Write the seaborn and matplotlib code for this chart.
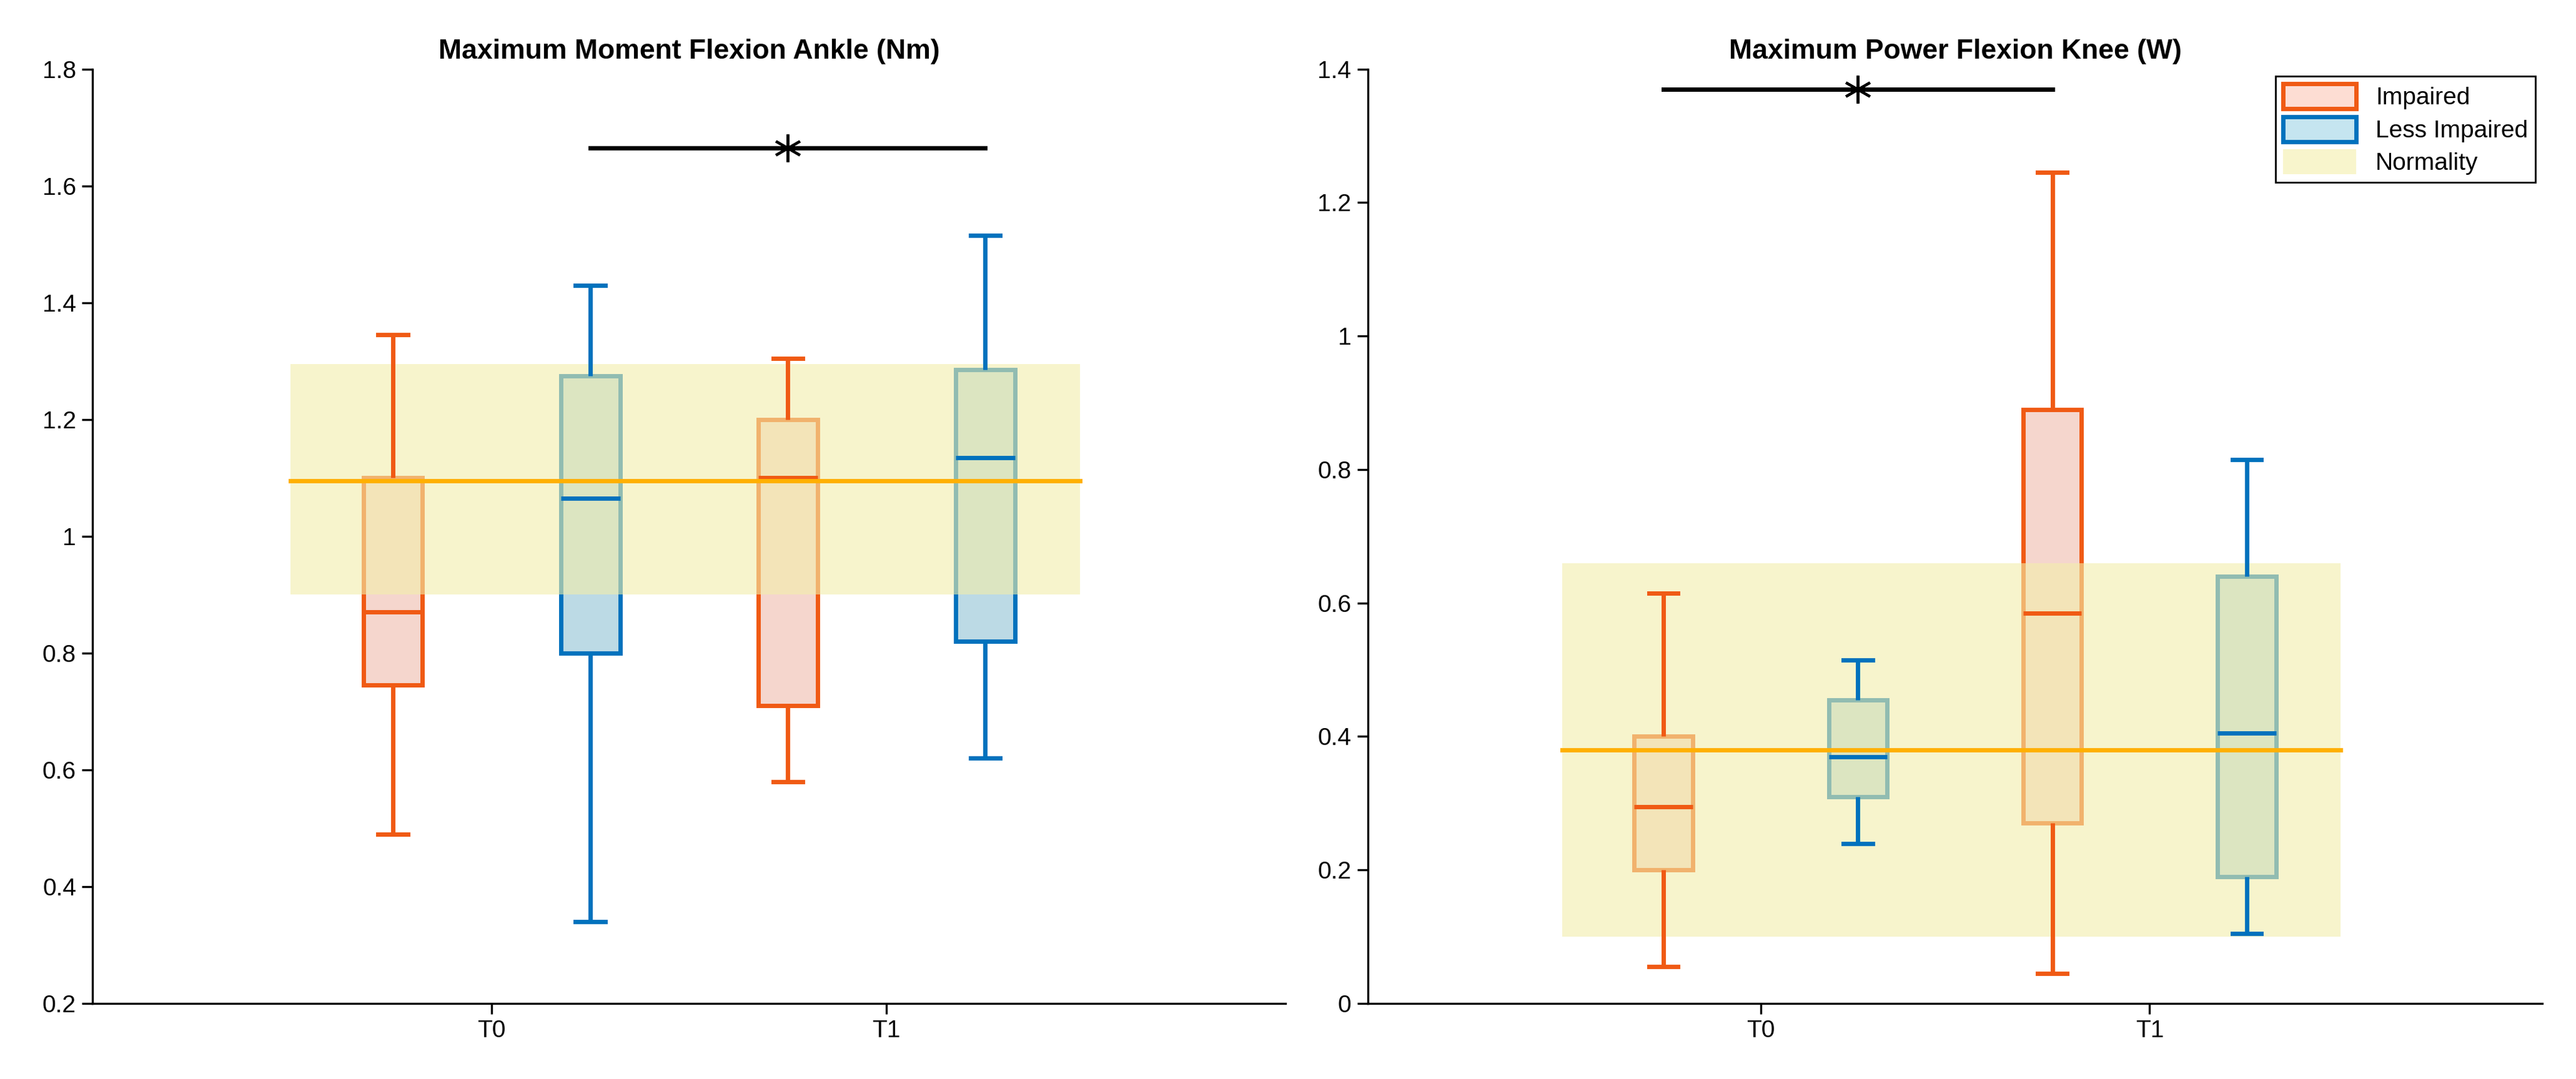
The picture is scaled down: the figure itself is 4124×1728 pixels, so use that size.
import numpy as np
import pandas as pd
import matplotlib
matplotlib.use('Agg')
import matplotlib.pyplot as plt
import seaborn as sns
from matplotlib.patches import Patch

# five-number summaries per box: min, q1, median, q3, max
times = ['T0', 'T1']
groups = ['Impaired', 'Less Impaired']

ankle = {
    ('T0', 'Impaired'): [0.49, 0.745, 0.87, 1.10, 1.345],
    ('T0', 'Less Impaired'): [0.34, 0.80, 1.065, 1.275, 1.43],
    ('T1', 'Impaired'): [0.58, 0.71, 1.10, 1.20, 1.305],
    ('T1', 'Less Impaired'): [0.62, 0.82, 1.135, 1.285, 1.515],
}
knee = {
    ('T0', 'Impaired'): [0.055, 0.20, 0.295, 0.40, 0.615],
    ('T0', 'Less Impaired'): [0.24, 0.31, 0.37, 0.455, 0.515],
    ('T1', 'Impaired'): [0.045, 0.27, 0.585, 0.89, 1.245],
    ('T1', 'Less Impaired'): [0.105, 0.19, 0.405, 0.64, 0.815],
}
ankle_norm = [0.90, 1.295]
ankle_norm_mean = 1.095
knee_norm = [0.10, 0.66]
knee_norm_mean = 0.38
ankle_sig = 1.665
knee_sig = 1.37

edge = {'Impaired': '#F05A14', 'Less Impaired': '#0072BD'}
fill = {'Impaired': '#FCD3C6', 'Less Impaired': '#B5DDEC'}

plt.rcParams['font.family'] = ['Liberation Sans', 'DejaVu Sans']


def to_frame(d):
    rows = []
    for (t, g), vals in d.items():
        for v in vals:
            rows.append({'time': t, 'group': g, 'value': v})
    return pd.DataFrame(rows)


def panel(ax, d, norm, norm_mean, sig, sig_x, title, ylim, yticks, yticklabels, legend=False):
    df = to_frame(d)
    sns.boxplot(data=df, x='time', y='value', hue='group', order=times, hue_order=groups,
                palette=fill, width=1.0, gap=0.7, whis=(0, 100), dodge=True,
                linewidth=2.5, ax=ax, legend=False)
    for cont, g in zip(ax.containers, groups):
        c = edge[g]
        for b in cont.boxes:
            b.set_edgecolor(c)
            b.set_linewidth(2.5)
            b.set_zorder(2)
        for ln in list(cont.medians) + list(cont.whiskers) + list(cont.caps):
            ln.set_color(c)
            ln.set_linewidth(2.5)
            ln.set_zorder(3.5)
    ax.fill_between([-0.51, 1.49], norm[0], norm[1], color='#F3EEAA', alpha=0.6,
                    lw=0, zorder=3)
    ax.plot([-0.51, 1.49], [norm_mean, norm_mean], color='#FFB000', lw=2.5, zorder=4)
    ax.plot(sig_x, [sig, sig], color='black', lw=2.5)
    ax.plot([np.mean(sig_x)], [sig], marker=(6, 2, 0), color='black', ms=16, mew=1.5)
    ax.set_xlim(-1.01, 2.01)
    ax.set_ylim(*ylim)
    ax.set_yticks(yticks)
    ax.set_yticklabels(yticklabels)
    ax.set_xlabel('')
    ax.set_ylabel('')
    ax.set_title(title, fontsize=16, fontweight='bold')
    ax.tick_params(labelsize=14, width=1.2, length=6)
    for s in ['top', 'right']:
        ax.spines[s].set_visible(False)
    for s in ['left', 'bottom']:
        ax.spines[s].set_linewidth(1.2)
    if legend:
        handles = [Patch(facecolor='#FDDDD3', edgecolor=edge['Impaired'], lw=2.5, label='Impaired'),
                   Patch(facecolor='#C5E5F0', edgecolor=edge['Less Impaired'], lw=2.5, label='Less Impaired'),
                   Patch(facecolor='#F8F5CC', edgecolor='none', label='Normality')]
        ax.legend(handles=handles, loc='upper right', fontsize=14, frameon=True, fancybox=False,
                  edgecolor='black', framealpha=1, handlelength=3, handleheight=1.2,
                  borderaxespad=0.3, labelspacing=0.3, borderpad=0.3)


fig = plt.figure(figsize=(20.62, 8.64), dpi=200)
ax1 = fig.add_axes([0.036, 0.07, 0.463, 0.866])
ax2 = fig.add_axes([0.531, 0.07, 0.456, 0.866])

panel(ax1, ankle, ankle_norm, ankle_norm_mean, ankle_sig, [0.25, 1.25],
      'Maximum Moment Flexion Ankle (Nm)', (0.2, 1.8),
      np.arange(0.2, 1.81, 0.2), ['0.2', '0.4', '0.6', '0.8', '1', '1.2', '1.4', '1.6', '1.8'])
panel(ax2, knee, knee_norm, knee_norm_mean, knee_sig, [-0.25, 0.75],
      'Maximum Power Flexion Knee (W)', (0, 1.4),
      np.arange(0, 1.41, 0.2), ['0', '0.2', '0.4', '0.6', '0.8', '1', '1.2', '1.4'], legend=True)

fig.savefig('out.png', dpi=200)
